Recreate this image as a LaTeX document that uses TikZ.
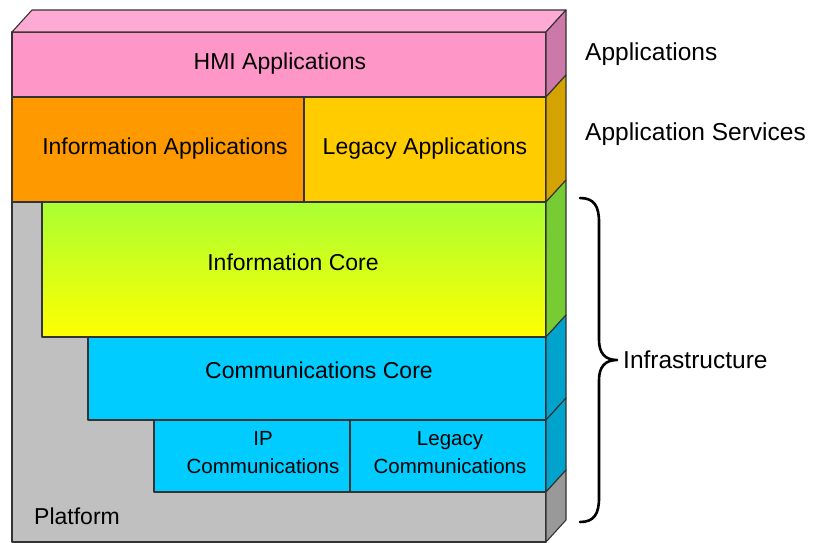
\documentclass[tikz,border=0pt]{standalone}
\usepackage{fontspec}
\setmainfont{Liberation Sans}
\begin{document}
\begin{tikzpicture}[x=1pt,y=-1pt,
  edge/.style={draw=black!80,line width=1.1pt,line join=round},
  lbl/.style={font=\fontsize{23}{27}\selectfont,inner sep=0pt,anchor=base},
  small/.style={font=\fontsize{20.5}{28}\selectfont,inner sep=0pt,anchor=base,align=center},
  side/.style={font=\fontsize{24.5}{28}\selectfont,inner sep=0pt,anchor=base west}]
\definecolor{pinkF}{HTML}{FF96C8}
\definecolor{pinkT}{HTML}{FFAAD4}
\definecolor{pinkS}{HTML}{CC78A8}
\definecolor{orangeF}{HTML}{FF9900}
\definecolor{yellowF}{HTML}{FFCC00}
\definecolor{yellowS}{HTML}{D4A300}
\definecolor{limeT}{HTML}{AAFF33}
\definecolor{limeB}{HTML}{FFFF00}
\definecolor{limeS}{HTML}{77CC33}
\definecolor{cyanF}{HTML}{00CCFF}
\definecolor{cyanS}{HTML}{00A3CC}
\definecolor{greyF}{HTML}{C0C0C0}
\definecolor{greyS}{HTML}{999999}

\useasboundingbox[fill=white] (0,0) rectangle (813,542);

% depth of the block
\def\dx{20}\def\dy{22}

% platform (back layer)
\path[edge,fill=greyF] (12,202) rectangle (546,542);
% information core
\shade[top color=limeT,bottom color=limeB] (42,202) rectangle (546,337);
\draw[edge] (42,202) rectangle (546,337);
% communications core
\path[edge,fill=cyanF] (88,337) rectangle (546,420);
% IP / legacy communications
\path[edge,fill=cyanF] (154,420) rectangle (350,492);
\path[edge,fill=cyanF] (350,420) rectangle (546,492);
% application services
\path[edge,fill=orangeF] (12,97) rectangle (304,202);
\path[edge,fill=yellowF] (304,97) rectangle (546,202);
% HMI applications
\path[edge,fill=pinkF] (12,32) rectangle (546,97);
% top face
\path[edge,fill=pinkT] (12,32) -- (12+\dx,32-\dy) -- (546+\dx,32-\dy) -- (546,32) -- cycle;
% side faces, one per band
\foreach \ya/\yb/\c in {32/97/pinkS,97/202/yellowS,202/337/limeS,337/420/cyanS,420/492/cyanS,492/542/greyS}{
  \path[edge,fill=\c] (546,\ya) -- (546+\dx,\ya-\dy) -- (546+\dx,\yb-\dy) -- (546,\yb) -- cycle;
}

% labels on the block
\node[lbl] (hmi) at (280,69) {HMI Applications};
\node[lbl] (infoapp) at (165,154) {Information Applications};
\node[lbl] (legapp) at (425,154) {Legacy Applications};
\node[lbl] (infocore) at (293,270) {Information Core};
\node[lbl] (commcore) at (319,378) {Communications Core};
\node[small] (ipcomm) at (263,473) {IP\\Communications};
\node[small] (legcomm) at (450,473) {Legacy\\Communications};
\node[lbl,anchor=base west] (platform) at (34,524) {Platform};

% layer names
\node[side] (apps) at (585,60) {Applications};
\node[side] (appsrv) at (585,140) {Application Services};
\node[side] (infra) at (623,368) {Infrastructure};

% brace spanning the infrastructure layers
\coordinate (bt) at (580,198);
\coordinate (bb) at (580,522);
\coordinate (tip) at (617,360);
\draw[line width=2.6pt,line cap=round,line join=round]
  (bt) .. controls (594,198) and (599,206) .. (599,222) -- (599,340)
  .. controls (599,353) and (605,360) .. (tip)
  .. controls (605,360) and (599,367) .. (599,380) -- (599,498)
  .. controls (599,514) and (594,522) .. (bb);
\end{tikzpicture}
\end{document}
